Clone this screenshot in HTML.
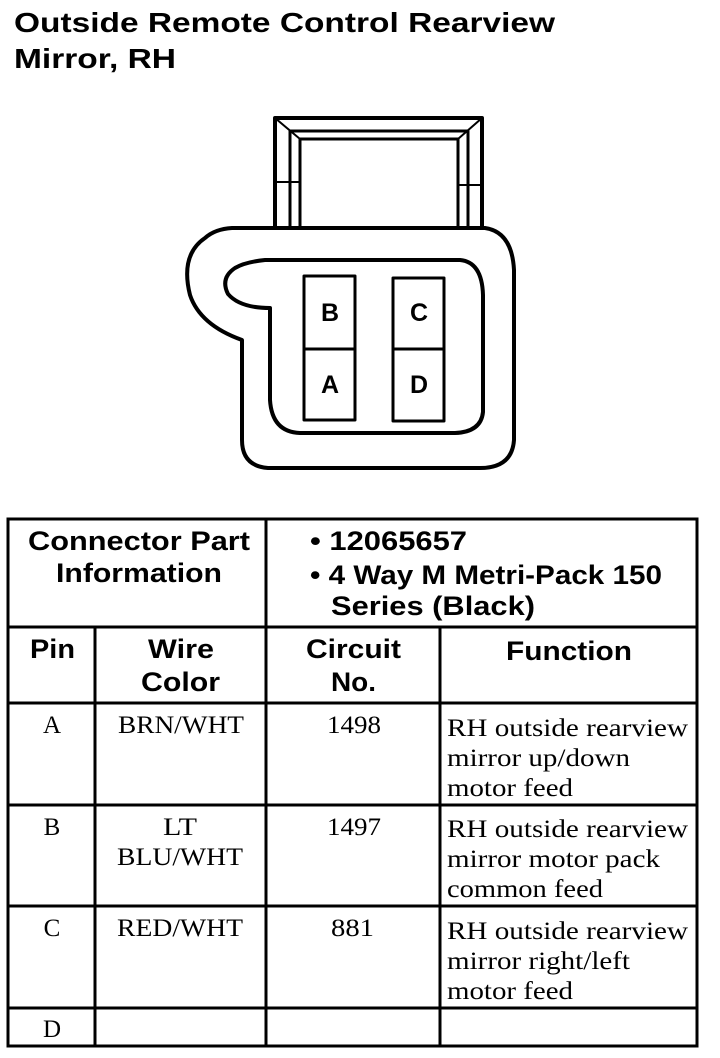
<!DOCTYPE html>
<html><head><meta charset="utf-8"><style>
html,body{margin:0;padding:0;background:#fff}
svg{display:block}
.h{font-family:"Liberation Sans",Arial,sans-serif;font-weight:bold;fill:#000}
.s{font-family:"Liberation Serif","Times New Roman",serif;fill:#000}
</style></head><body>
<svg width="720" height="1058" viewBox="0 0 720 1058" xmlns="http://www.w3.org/2000/svg">
<text class="h" x="14" y="32" font-size="28" textLength="541" lengthAdjust="spacingAndGlyphs">Outside Remote Control Rearview</text>
<text class="h" x="14" y="68" font-size="28" textLength="162" lengthAdjust="spacingAndGlyphs">Mirror, RH</text>

<g fill="none" stroke="#000" stroke-width="4" stroke-linejoin="round">
  <path d="M275 230 V118 H482 V230"/>
  <path d="M290 230 V131 H468 V230" stroke-width="3"/>
  <path d="M300 230 V139 H458 V230" stroke-width="3"/>
  <line x1="275" y1="118" x2="300" y2="139" stroke-width="2"/>
  <line x1="482" y1="118" x2="458" y2="139" stroke-width="2"/>
  <line x1="275" y1="182" x2="300" y2="182" stroke-width="2"/>
  <line x1="458" y1="185" x2="482" y2="185" stroke-width="2"/>
  <path d="M232 228 H485 Q512 232 514 270 V440 Q512 468 480 468 H268 Q242 466 242 440 V340 Q200 325 190 295 Q180 255 205 238 Q215 229 232 228 Z"/>
  <path d="M265 260 H460 Q482 262 483 295 V412 Q481 432 455 433 H300 Q272 432 270 400 V308 Q240 308 228 294 Q220 278 235 268 Q245 262 265 260 Z"/>
  <rect x="304" y="276" width="51" height="144" stroke-width="3"/>
  <line x1="304" y1="349" x2="355" y2="349" stroke-width="3"/>
  <rect x="393" y="278" width="51" height="143" stroke-width="3"/>
  <line x1="393" y1="349" x2="444" y2="349" stroke-width="3"/>
</g>
<text class="h" x="330" y="321" font-size="25" text-anchor="middle">B</text>
<text class="h" x="330" y="393" font-size="25" text-anchor="middle">A</text>
<text class="h" x="419" y="321" font-size="25" text-anchor="middle">C</text>
<text class="h" x="419" y="393" font-size="25" text-anchor="middle">D</text>

<g stroke="#000" stroke-width="3" fill="none">
  <rect x="8" y="519" width="689" height="527"/>
  <line x1="266" y1="519" x2="266" y2="1046"/>
  <line x1="95" y1="627" x2="95" y2="1046"/>
  <line x1="440" y1="627" x2="440" y2="1046"/>
  <line x1="8" y1="627" x2="697" y2="627"/>
  <line x1="8" y1="703" x2="697" y2="703"/>
  <line x1="8" y1="805" x2="697" y2="805"/>
  <line x1="8" y1="906" x2="697" y2="906"/>
  <line x1="8" y1="1008" x2="697" y2="1008"/>
</g>
<g class="h" font-size="27" lengthAdjust="spacingAndGlyphs">
  <text x="28" y="550" textLength="222" lengthAdjust="spacingAndGlyphs">Connector Part</text>
  <text x="56" y="582" textLength="166" lengthAdjust="spacingAndGlyphs">Information</text>
  <text x="310" y="550" textLength="157" lengthAdjust="spacingAndGlyphs">• 12065657</text>
  <text x="310" y="584" textLength="352" lengthAdjust="spacingAndGlyphs">• 4 Way M Metri-Pack 150</text>
  <text x="331" y="615" textLength="204" lengthAdjust="spacingAndGlyphs">Series (Black)</text>
  <text x="30" y="658" textLength="45" lengthAdjust="spacingAndGlyphs">Pin</text>
  <text x="148" y="658" textLength="66" lengthAdjust="spacingAndGlyphs">Wire</text>
  <text x="141" y="691" textLength="79" lengthAdjust="spacingAndGlyphs">Color</text>
  <text x="306" y="658" textLength="95" lengthAdjust="spacingAndGlyphs">Circuit</text>
  <text x="331" y="691" textLength="45" lengthAdjust="spacingAndGlyphs">No.</text>
  <text x="506" y="660" textLength="126" lengthAdjust="spacingAndGlyphs">Function</text>
</g>
<g class="s" font-size="25">
  <text x="52" y="733" text-anchor="middle">A</text>
  <text x="118" y="733" textLength="126" lengthAdjust="spacingAndGlyphs">BRN/WHT</text>
  <text x="327" y="733" textLength="54" lengthAdjust="spacingAndGlyphs">1498</text>
  <text x="447" y="736" textLength="241" lengthAdjust="spacingAndGlyphs">RH outside rearview</text>
  <text x="447" y="766" textLength="183" lengthAdjust="spacingAndGlyphs">mirror up/down</text>
  <text x="447" y="796" textLength="126" lengthAdjust="spacingAndGlyphs">motor feed</text>

  <text x="52" y="835" text-anchor="middle">B</text>
  <text x="163" y="835" textLength="34" lengthAdjust="spacingAndGlyphs">LT</text>
  <text x="117" y="865" textLength="126" lengthAdjust="spacingAndGlyphs">BLU/WHT</text>
  <text x="327" y="835" textLength="54" lengthAdjust="spacingAndGlyphs">1497</text>
  <text x="447" y="837" textLength="241" lengthAdjust="spacingAndGlyphs">RH outside rearview</text>
  <text x="447" y="867" textLength="213" lengthAdjust="spacingAndGlyphs">mirror motor pack</text>
  <text x="447" y="897" textLength="156" lengthAdjust="spacingAndGlyphs">common feed</text>

  <text x="52" y="936" text-anchor="middle">C</text>
  <text x="117" y="936" textLength="126" lengthAdjust="spacingAndGlyphs">RED/WHT</text>
  <text x="331" y="936" textLength="43" lengthAdjust="spacingAndGlyphs">881</text>
  <text x="447" y="939" textLength="241" lengthAdjust="spacingAndGlyphs">RH outside rearview</text>
  <text x="447" y="969" textLength="183" lengthAdjust="spacingAndGlyphs">mirror right/left</text>
  <text x="447" y="999" textLength="126" lengthAdjust="spacingAndGlyphs">motor feed</text>

  <text x="52" y="1037" text-anchor="middle">D</text>
</g>
</svg>
</body></html>
